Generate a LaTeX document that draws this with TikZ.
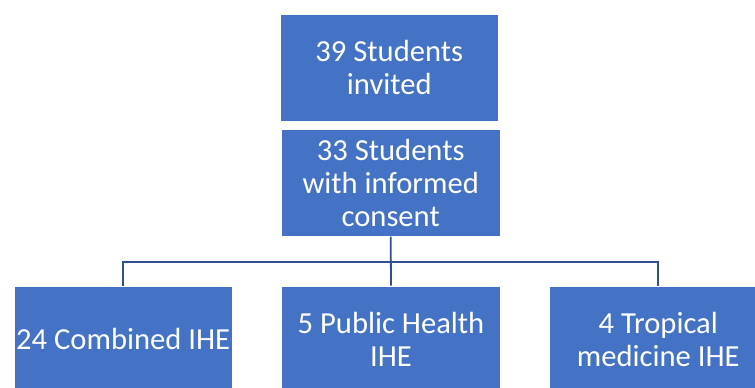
\documentclass[tikz,border=0pt]{standalone}
\usepackage{fontspec}
\setmainfont{Carlito}
\usepackage{tikz}
\usetikzlibrary{calc,positioning}
\definecolor{boxblue}{HTML}{4472C4}
\definecolor{linkblue}{HTML}{2F528F}

\begin{document}
\begin{tikzpicture}[x=1pt,y=1pt]
		\tikzstyle{m1}=[fill=boxblue, draw=white, line width=0.6pt, text=white, font=\fontsize{30.6}{33}\selectfont, align=center, inner sep=0pt, minimum width=218.5]
		\tikzstyle{link}=[draw=linkblue, line width=1.8pt]

		\useasboundingbox (0,0) rectangle (755,-388);

		\node[m1, minimum height=107.5] (N1) at (389.3,-67.8) {39 Students\\invited};
		\node[m1, minimum height=107.5] (N2) at (390.7,-182.6) {33 Students\\with informed\\consent};

		\node[m1, minimum height=106] (N3) at (123.2,-339) {24 Combined IHE};
		\node[m1, minimum height=106] (N4) at (391,-339) {5 Public Health\\IHE};
		\node[m1, minimum height=106] (N5) at (658.3,-339) {4 Tropical\\medicine IHE};

		\coordinate (bar) at (0,-261.7);

		\draw [link] (N2.south) to (N4.north);
		\draw [link] (N3.north) -- (N3.north |- bar) -- (N5.north |- bar) -- (N5.north);

    \end{tikzpicture}
\end{document}
